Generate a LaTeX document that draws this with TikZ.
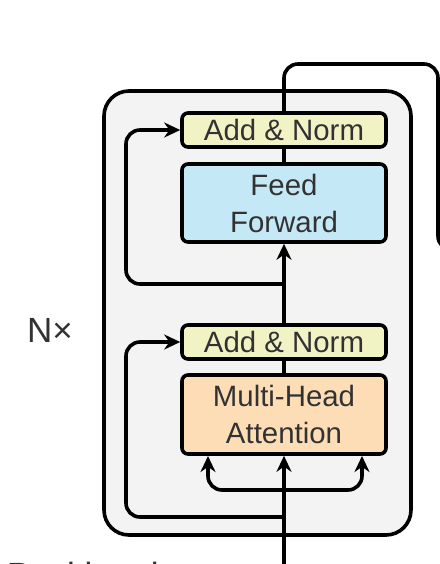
\documentclass[tikz,border=0pt]{standalone}
\usepackage{fontspec}
\setmainfont{Liberation Sans}
\usetikzlibrary{positioning,arrows.meta}
\definecolor{inkgray}{RGB}{50,50,50}
\definecolor{layergray}{RGB}{243,243,243}
\definecolor{normyellow}{RGB}{242,243,197}
\definecolor{ffblue}{RGB}{197,232,246}
\definecolor{attnorange}{RGB}{252,221,182}

\begin{document}
\begin{tikzpicture}
  [x=0.5pt,y=-0.5pt,line width=1.8pt,
   every node/.style={text=inkgray,font=\fontsize{14.7}{18.5}\selectfont},
   block/.style={draw=black,rounded corners=3pt,minimum width=102pt,align=center,inner sep=0pt},
   addnorm/.style={block,fill=normyellow,minimum height=17pt},
   ffbox/.style={block,fill=ffblue,minimum height=39pt},
   attnbox/.style={block,fill=attnorange,minimum height=39.5pt},
   layerbox/.style={draw=black,fill=layergray,rounded corners=12.5pt,minimum width=153.5pt,minimum height=222pt},
   bigtext/.style={font=\fontsize{17.5}{21}\selectfont},
   arr/.style={-{Stealth[length=8pt,width=7.5pt]}},
   wire/.style={rounded corners=7pt}]
  \useasboundingbox (0,0) rectangle (440,564);
  \clip (0,0) rectangle (440,564);

  \node[layerbox] (layer) at (257.5,313) {};
  \node[bigtext] (nx) at (50,330) {N×};
  \node[bigtext,anchor=base west,inner sep=0pt] (pos) at (5,587) {Positional};

  \node[addnorm] (an1) at (284,130) {Add \& Norm};
  \node[ffbox] (ff) at (284,203) {Feed\\Forward};
  \node[addnorm] (an2) at (284,342) {Add \& Norm};
  \node[attnbox] (mha) at (284,414.5) {Multi-Head\\Attention};

  \coordinate (in) at (284,600);
  \coordinate (split0) at (284,490);
  \coordinate (split1) at (284,517);
  \coordinate (split2) at (284,284);
  \coordinate (lft) at (126,0);
  \coordinate (mhak) at (208,456);
  \coordinate (mhav) at (362,456);
  \coordinate (out1) at (438,64);
  \coordinate (out2) at (480,250);

  \draw[arr] (in) -- (mha);
  \foreach \to in {mhak,mhav}
    \draw[arr,wire] (split0) -| (\to);
  \draw (mha) -- (an2);
  \draw[arr] (an2) -- (ff);
  \draw (ff) -- (an1);
  \draw[wire] (an1.north) |- (out1) |- (out2);

  \foreach \from/\to in {split1/an2,split2/an1}
    \draw[arr,wire] (\from) -- (\from -| lft) |- (\to.west);

\end{tikzpicture}
\end{document}
